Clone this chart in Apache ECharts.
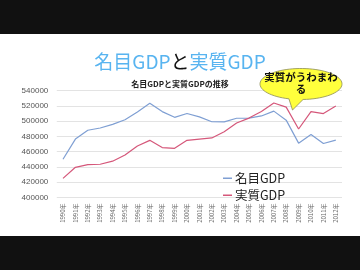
<!DOCTYPE html>
<html><head><meta charset="utf-8">
<script src="https://cdn.jsdelivr.net/npm/echarts@6/dist/echarts.min.js"></script>
<style>html,body{margin:0;padding:0;background:#111;}#c{width:360px;height:270px;}</style>
</head><body><div id="c"></div>
<script>
var years = ['1990年','1991年','1992年','1993年','1994年','1995年','1996年','1997年','1998年','1999年','2000年','2001年','2002年','2003年','2004年','2005年','2006年','2007年','2008年','2009年','2010年','2011年','2012年'];
var nominalGDP = [450000,476400,488000,490900,495700,501700,511900,523200,512400,504900,509900,505500,499100,498900,503700,503900,506700,513000,501200,471100,482400,470600,475100];
var realGDP = [425000,439500,443000,443500,447500,455500,467300,474800,465300,464400,474800,476500,477900,486000,497400,503900,512500,523700,518200,489600,512400,509800,519800];
var yTicks = {min:400000, max:540000, interval:20000};

var chart = echarts.init(document.getElementById('c'), null, {renderer:'canvas'});

// callout shape (decoration)
var cx=301, cy=84, rx=41, ry=15.5;
var pts=[];
var a0=1.87, a1=1.52+2*Math.PI;
for(var i=0;i<=72;i++){var t=a0+(a1-a0)*i/72; pts.push([cx+rx*Math.cos(t), cy+ry*Math.sin(t)]);}
pts.push([292.5,110]);

var cjk = '"Noto Sans CJK JP", sans-serif';
chart.setOption({
  backgroundColor:'#111111',
  animation:false,
  graphic:[
    {type:'rect', shape:{x:0,y:34,width:360,height:202}, style:{fill:'#ffffff'}, z:-10, silent:true},
    {type:'polygon', shape:{points:pts}, style:{fill:'#ffff3c', stroke:'#8c8c55', lineWidth:0.8}, z:100},
    {type:'text', x:cx, y:83, style:{text:'実質がうわまわ\nる', font:'bold 10.5px '+cjk, fill:'#111', textAlign:'center', textVerticalAlign:'middle', lineHeight:12}, z:101}
  ],
  title:[
    {text:'{b|名目GDP}{k|と}{b|実質GDP}', left:'center', top:47, textStyle:{rich:{
      b:{fontSize:19, color:'#58b4f0', fontFamily:cjk, fontWeight:'normal'},
      k:{fontSize:19, color:'#111', fontFamily:cjk, fontWeight:'normal'}}}},
    {text:'名目GDPと実質GDPの推移', left:'center', top:75, textStyle:{fontSize:8, fontWeight:'bold', color:'#222', fontFamily:cjk}}
  ],
  grid:{left:56.8, right:18, top:90.5, bottom:72.5},
  legend:{orient:'vertical', left:218, top:167, itemWidth:9, itemHeight:1.5, itemGap:4.5, icon:'rect',
    textStyle:{fontSize:12.5, color:'#222', fontFamily:cjk, padding:[0,0,0,-2]},
    data:['名目GDP','実質GDP']},
  xAxis:{type:'category', data:years, boundaryGap:true,
    axisLine:{show:false}, axisTick:{show:false},
    axisLabel:{interval:0, rotate:90, fontSize:6, color:'#666', margin:6, fontFamily:cjk}},
  yAxis:{type:'value', min:yTicks.min, max:yTicks.max, interval:yTicks.interval,
    axisLine:{show:false}, axisTick:{show:false},
    splitLine:{lineStyle:{color:'#dcdcdc', width:0.8}},
    axisLabel:{fontSize:8, color:'#555', margin:8.5, fontFamily:'"Liberation Sans", Arial, sans-serif',
      formatter:function(v){return String(v);}}},
  series:[
    {name:'名目GDP', type:'line', data:nominalGDP, symbol:'none', lineStyle:{color:'#7f9fd3', width:1.2}, itemStyle:{color:'#7f9fd3'}},
    {name:'実質GDP', type:'line', data:realGDP, symbol:'none', lineStyle:{color:'#d5577a', width:1.2}, itemStyle:{color:'#d5577a'}}
  ]
});
</script></body></html>
